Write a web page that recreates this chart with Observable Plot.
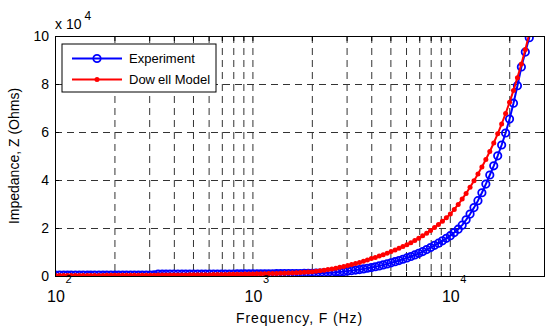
<!DOCTYPE html>
<html><head><meta charset="utf-8">
<script src="https://cdn.jsdelivr.net/npm/d3@7"></script>
<script src="https://cdn.jsdelivr.net/npm/@observablehq/plot@0.6"></script>
<style>html,body{margin:0;padding:0;background:#fff;} svg{display:block}</style>
</head><body><div id="chart"></div>
<script>
// Frequency (Hz)
const freq = [100,105,110,115,120,126,132,138,145,151,
158,166,174,182,191,200,209,219,229,240,
251,263,275,288,302,316,331,347,363,380,
398,417,437,457,479,501,525,550,575,603,
631,661,692,724,759,794,832,871,912,955,
1000,1047,1096,1148,1202,1259,1318,1380,1445,1514,
1585,1660,1738,1820,1905,1995,2089,2188,2291,2399,
2512,2630,2754,2884,3020,3162,3311,3467,3631,3802,
3981,4169,4365,4571,4786,5012,5248,5495,5754,6026,
6310,6607,6918,7244,7586,7943,8318,8710,9120,9550,
10000,10471,10965,11482,12023,12589,13183,13804,14454,15136,
15849,16596,17378,18197,19055,19953,20893,21878,22909,23988,
25119];
// Measured impedance (Ohms)
const experiment = [600,600,600,600,600,600,600,600,600,600,
600,600,600,600,600,600,600,610,610,610,
620,620,620,630,630,640,950,960,960,970,
970,980,980,990,990,1000,1000,1010,1010,1020,
1020,1030,1030,1040,1050,1050,1060,1070,1080,1090,
1100,1110,1120,1130,1140,1150,1160,1170,1180,1190,
1200,1230,1260,1290,1320,1350,1400,1445,1495,1545,
1600,1740,1900,2060,2250,2450,2660,2900,3150,3430,
3730,4060,4420,4810,5240,5700,6160,6650,7180,7750,
8340,8980,9660,10400,11200,12070,13000,13900,14870,15900,
17000,18300,19700,21400,23600,26000,28700,31600,34900,38500,
42300,46100,50300,54800,59800,65600,72200,79500,87300,93500,
99500];
// Dowell model impedance (Ohms)
const dowell = [400,400,410,410,420,420,430,430,440,440,
450,450,460,470,470,480,490,500,500,510,
520,530,540,550,560,570,580,590,600,620,
630,640,660,670,690,710,720,740,760,780,
800,820,850,870,900,920,950,980,1010,1050,
1080,1112,1145,1180,1215,1251,1288,1327,1366,1410,
1495,1585,1680,1781,1888,2000,2193,2405,2637,2891,
3170,3476,3811,4179,4560,4950,5370,5830,6330,6870,
7450,7960,8510,9090,9710,10380,11030,11730,12470,13260,
14100,14990,15940,16950,18020,19160,20370,21650,23020,24480,
26020,27950,30010,32240,34620,37180,39930,42670,45600,48730,
52070,55640,59460,63540,67900,72560,77540,82860,88540,94620,
101100];

const gridX = [100,200,300,400,500,600,700,800,900,
1000,2000,3000,4000,5000,6000,7000,8000,9000,
10000,20000,30000];
const decades = [100,1000,10000];
const yTicks = [0,20000,40000,60000,80000,100000];
const seriesNames = ["Experiment","Dowell Model"];
const xLabel = "Frequency, F (Hz)";
const yLabel = "Impedance, Z (Ohms)";

const expData = freq.map((f,i)=>({f, z: experiment[i]}));
const modData = freq.map((f,i)=>({f, z: dowell[i]}));

const FONT = "'Liberation Sans', Arial, Helvetica, sans-serif";
const BLUE = "#0000ff", RED = "#ff0000", GRID = "#333333";

const plot = Plot.plot({
  width: 545, height: 327,
  marginLeft: 55, marginRight: 1, marginTop: 36, marginBottom: 51,
  x: {type: "log", domain: [100, 30000]},
  y: {domain: [0, 100000]},
  style: {fontFamily: FONT, background: "#fff", overflow: "visible"},
  marks: [
    Plot.ruleX(gridX, {x: d => d, stroke: GRID, strokeWidth: 1, strokeDasharray: "7,5"}),
    Plot.ruleY(yTicks, {y: d => d, stroke: GRID, strokeWidth: 1, strokeDasharray: "7,5"}),
    Plot.axisX({anchor: "bottom", ticks: gridX, tickSize: -4, tickFormat: () => "", label: null, stroke: "#000"}),
    Plot.axisX({anchor: "top", ticks: gridX, tickSize: -4, tickFormat: () => "", label: null, stroke: "#000"}),
    Plot.axisY({anchor: "left", ticks: yTicks, tickSize: -4, tickFormat: () => "", label: null, stroke: "#000"}),
    Plot.axisY({anchor: "right", ticks: yTicks, tickSize: -4, tickFormat: () => "", label: null, stroke: "#000"}),
    Plot.line(expData, {x: "f", y: "z", stroke: BLUE, strokeWidth: 2, clip: true}),
    Plot.dot(expData, {x: "f", y: "z", stroke: BLUE, fill: "none", r: 3.7, strokeWidth: 1.8, clip: true}),
    Plot.line(modData, {x: "f", y: "z", stroke: RED, strokeWidth: 2, clip: true}),
    Plot.dot(modData, {x: "f", y: "z", fill: RED, stroke: "none", r: 2.5, clip: true}),
    Plot.frame({stroke: "#000", strokeWidth: 1})
  ]
});

const svg = d3.select(plot);
const sx = plot.scale("x"), sy = plot.scale("y");
const fr = {left: 55, right: 544, top: 36, bottom: 276};

function txt(x, y, s, size, anchor) {
  return svg.append("text").attr("x", x).attr("y", y)
    .attr("text-anchor", anchor).attr("font-size", size)
    .attr("font-family", FONT).attr("fill", "#000").text(s);
}

// y tick labels
yTicks.forEach(t => txt(fr.left - 6, sy.apply(t) + 5, String(t / 1e4), 14, "end"));
// x tick labels 10^n
decades.forEach(t => {
  const x = sx.apply(t);
  txt(x + 1, fr.bottom + 25.5, "10", 16, "middle");
  txt(x + 10.5, fr.bottom + 7, String(Math.round(Math.log10(t))), 11, "start");
});
// exponent label
txt(55, 28.5, "x 10", 14, "start");
txt(84.5, 20, "4", 12, "start");
// axis labels
txt((fr.left + fr.right) / 2, 322.5, xLabel, 14, "middle").attr("letter-spacing", "0.9px");
svg.append("text").attr("transform", `translate(18.5,${(fr.top + fr.bottom) / 2}) rotate(-90)`)
  .attr("text-anchor", "middle").attr("font-size", 14).attr("font-family", FONT)
  .attr("fill", "#000").text(yLabel);

// legend
const lg = svg.append("g").attr("font-family", FONT);
lg.append("rect").attr("x", 62).attr("y", 44).attr("width", 154).attr("height", 48)
  .attr("fill", "#fff").attr("stroke", "#000").attr("stroke-width", 1);
const rows = [
  {name: seriesNames[0], y: 58.5, color: BLUE, kind: "circle"},
  {name: seriesNames[1], y: 79.5, color: RED, kind: "dot"}
];
rows.forEach(r => {
  lg.append("line").attr("x1", 72).attr("x2", 122).attr("y1", r.y).attr("y2", r.y)
    .attr("stroke", r.color).attr("stroke-width", 2);
  if (r.kind === "circle") {
    lg.append("circle").attr("cx", 97).attr("cy", r.y).attr("r", 3.7).attr("fill", "none")
      .attr("stroke", r.color).attr("stroke-width", 1.8);
  } else {
    lg.append("circle").attr("cx", 97).attr("cy", r.y).attr("r", 2.5).attr("fill", r.color);
  }
  const t = lg.append("text").attr("x", 129).attr("y", r.y + 4.5).attr("font-size", 13)
    .attr("text-anchor", "start").attr("fill", "#000");
  if (r.name === "Dowell Model") {
    t.append("tspan").text("Dow");
    t.append("tspan").attr("dx", 3).text("ell Model");
  } else {
    t.text(r.name);
  }
});

document.getElementById("chart").appendChild(plot);
</script>
</body></html>
